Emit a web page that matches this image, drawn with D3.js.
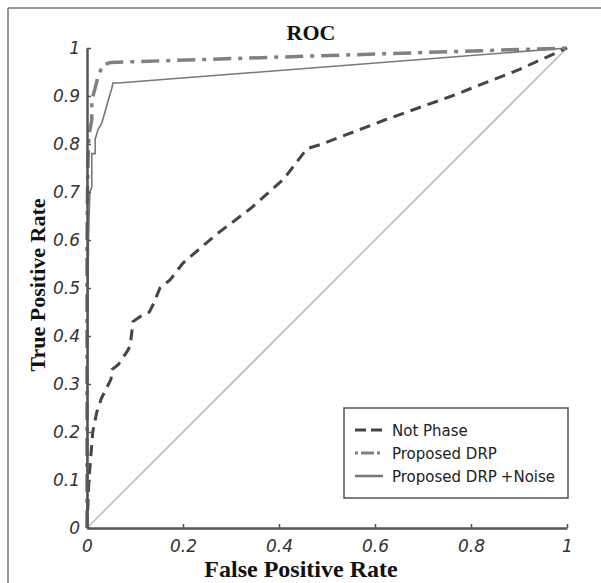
<!DOCTYPE html>
<html>
<head>
<meta charset="utf-8">
<script src="https://cdn.jsdelivr.net/npm/d3@7/dist/d3.min.js"></script>
<style>
  body { margin: 0; background: #fff; }
</style>
</head>
<body>
<div id="my_dataviz"></div>
<script>
// tick values
var xTicks = [0, 0.2, 0.4, 0.6, 0.8, 1];
var yTicks = [0, 0.1, 0.2, 0.3, 0.4, 0.5, 0.6, 0.7, 0.8, 0.9, 1];

// series: [FPR, TPR]
var notPhase = [[0,0],[0.002,0.05],[0.004,0.1],[0.008,0.15],[0.012,0.2],[0.02,0.24],[0.03,0.27],
  [0.04,0.29],[0.05,0.31],[0.052,0.33],[0.065,0.34],[0.075,0.355],[0.085,0.37],[0.09,0.38],
  [0.096,0.43],[0.11,0.44],[0.13,0.45],[0.14,0.47],[0.152,0.5],[0.173,0.517],[0.2,0.552],
  [0.27,0.612],[0.34,0.665],[0.41,0.727],[0.458,0.79],[0.49,0.8],[0.62,0.85],[0.76,0.9],
  [0.9,0.955],[1,1]];
var proposedDRP = [[0,0],[0,0.6],[0.001,0.7],[0.002,0.75],[0.003,0.8],[0.006,0.83],[0.01,0.85],
  [0.01,0.89],[0.017,0.917],[0.023,0.94],[0.033,0.965],[0.05,0.97],[1,1]];
var proposedNoise = [[0,0],[0.001,0.3],[0.003,0.6],[0.006,0.7],[0.01,0.71],[0.01,0.78],[0.017,0.78],
  [0.017,0.81],[0.023,0.83],[0.031,0.844],[0.037,0.865],[0.044,0.89],[0.052,0.917],[0.054,0.927],
  [0.065,0.927],[1,1]];
var diagonal = [[0,0],[1,1]];

var legendNames = ["Not Phase", "Proposed DRP", "Proposed DRP"];

// dimensions
var margin = {top: 48, right: 33, bottom: 55, left: 87},
    width = 567 - margin.left,
    height = 528 - margin.top;

var svg0 = d3.select("#my_dataviz")
  .append("svg")
    .attr("width", 601)
    .attr("height", 583);

// frame lines of the figure
svg0.append("line").attr("x1", 8).attr("y1", 8).attr("x2", 601).attr("y2", 8)
  .style("stroke", "#777").style("stroke-width", 1.5);
svg0.append("line").attr("x1", 8).attr("y1", 8).attr("x2", 8).attr("y2", 583)
  .style("stroke", "#777").style("stroke-width", 1.5);

var svg = svg0.append("g")
    .attr("transform", "translate(" + margin.left + "," + margin.top + ")");

var x = d3.scaleLinear().domain([0, 1]).range([0, width]);
var y = d3.scaleLinear().domain([0, 1]).range([height, 0]);

var line = d3.line()
  .x(function(d) { return x(d[0]); })
  .y(function(d) { return y(d[1]); });

// curves
svg.append("path").datum(diagonal).attr("d", line)
  .style("fill", "none").style("stroke", "#bdbdbd").style("stroke-width", 1.6);
svg.append("path").datum(proposedNoise).attr("d", line)
  .style("fill", "none").style("stroke", "#777").style("stroke-width", 1.6);
svg.append("path").datum(notPhase).attr("d", line)
  .style("fill", "none").style("stroke", "#454545").style("stroke-width", 3)
  .style("stroke-dasharray", "11,7");
svg.append("path").datum(proposedDRP).attr("d", line)
  .style("fill", "none").style("stroke", "#808080").style("stroke-width", 3.5)
  .style("stroke-dasharray", "18,7,4,7");

// axes
var xAxis = svg.append("g")
  .attr("transform", "translate(0," + height + ")")
  .call(d3.axisBottom(x).tickValues(xTicks).tickSize(-4).tickSizeOuter(0).tickPadding(12)
    .tickFormat(function(d) { return String(d); }));
var yAxis = svg.append("g")
  .call(d3.axisLeft(y).tickValues(yTicks).tickSize(-4).tickSizeOuter(0).tickPadding(7)
    .tickFormat(function(d) { return String(d); }));

[xAxis, yAxis].forEach(function(a) {
  a.select(".domain").style("stroke", "#555").style("stroke-width", 2.5);
  a.selectAll(".tick line").style("stroke", "#555").style("stroke-width", 1.5);
  a.selectAll(".tick text")
    .style("font-family", "DejaVu Sans")
    .style("font-style", "italic")
    .style("font-size", "17px")
    .style("fill", "#333");
});

// titles
svg0.append("text")
  .attr("x", 311).attr("y", 40)
  .attr("text-anchor", "middle")
  .style("font-family", "Liberation Serif").style("font-weight", "bold")
  .style("font-size", "22px").style("fill", "#111")
  .text("ROC");
svg0.append("text")
  .attr("x", 301).attr("y", 577)
  .attr("text-anchor", "middle")
  .style("font-family", "Liberation Serif").style("font-weight", "bold")
  .style("font-size", "24px").style("fill", "#111")
  .text("False Positive Rate");
svg0.append("text")
  .attr("transform", "translate(45,285) rotate(-90)")
  .attr("text-anchor", "middle")
  .style("font-family", "Liberation Serif").style("font-weight", "bold")
  .style("font-size", "22px").style("fill", "#111")
  .text("True Positive Rate");

// legend
var lg = svg0.append("g");
lg.append("rect")
  .attr("x", 344).attr("y", 408).attr("width", 224).attr("height", 90)
  .style("fill", "#fff").style("stroke", "#555").style("stroke-width", 1.5);
var legendStyles = [
  {stroke: "#454545", w: 3, dash: "11,5"},
  {stroke: "#808080", w: 3, dash: "3,3,13,3,3"},
  {stroke: "#777", w: 2.5, dash: null}
];
legendNames.forEach(function(name, i) {
  var cy = 430 + i * 23;
  var s = legendStyles[i];
  lg.append("line")
    .attr("x1", 355).attr("x2", 383).attr("y1", cy).attr("y2", cy)
    .style("stroke", s.stroke).style("stroke-width", s.w)
    .style("stroke-dasharray", s.dash);
  var t = lg.append("text")
    .attr("x", 392).attr("y", cy + 5.5)
    .style("font-family", "DejaVu Sans").style("font-size", "15px").style("fill", "#222")
    .text(name);
  if (i == 2) t.append("tspan").attr("dx", 4).text("+Noise");
});
</script>
</body>
</html>
